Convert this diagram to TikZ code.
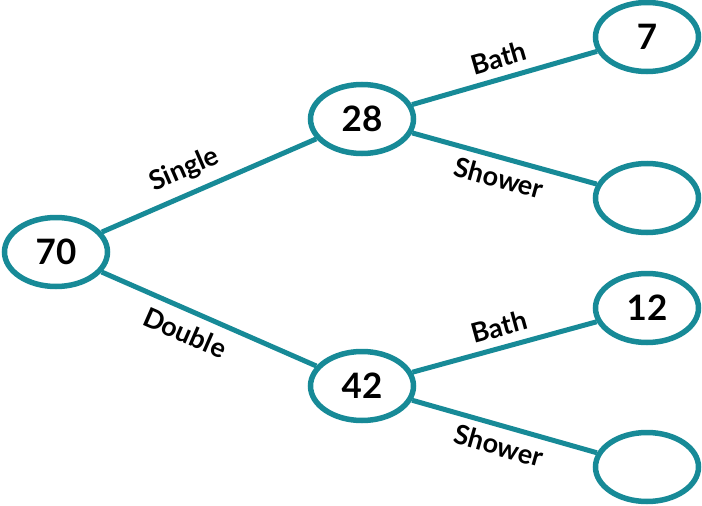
\documentclass[tikz,border=0pt]{standalone}
\usepackage{fontspec}
\setmainfont{Lato}
\usetikzlibrary{shapes.geometric}

\definecolor{teal}{HTML}{178A97}

\begin{document}
\begin{tikzpicture}[x=1pt,y=-1pt,
  every node/.style={font=\fontsize{27}{32}\selectfont\bfseries},
  count/.style={ellipse,draw=teal,line width=5.5pt,minimum width=103pt,minimum height=69pt,
    inner sep=0pt,font=\fontsize{35}{40}\selectfont\bfseries},
  branch/.style={draw=teal,line width=5pt}]

  \useasboundingbox (0,0) rectangle (702,506);

  % the counts
  \node[count] (n70) at (56,252) {70};
  \node[count] (n28) at (362,119) {28};
  \node[count] (n42) at (362,386) {42};
  \node[count] (n7) at (647,37) {7};
  \node[count] (nA) at (647,198) {};
  \node[count] (n12) at (647,308) {12};
  \node[count] (nB) at (647,467) {};

  % first split
  \draw[branch] (n70) -- (n28) node[pos=0.43,above=6pt,sloped] {Single};
  \draw[branch] (n70) -- (n42) node[pos=0.43,below=6pt,sloped] {Double};

  % second split
  \draw[branch] (n28) -- (n7) node[midway,above=5pt,sloped] {Bath};
  \draw[branch] (n28) -- (nA) node[midway,below=4pt,sloped] {Shower};
  \draw[branch] (n42) -- (n12) node[midway,above=5pt,sloped] {Bath};
  \draw[branch] (n42) -- (nB) node[midway,below=4pt,sloped] {Shower};

\end{tikzpicture}
\end{document}
